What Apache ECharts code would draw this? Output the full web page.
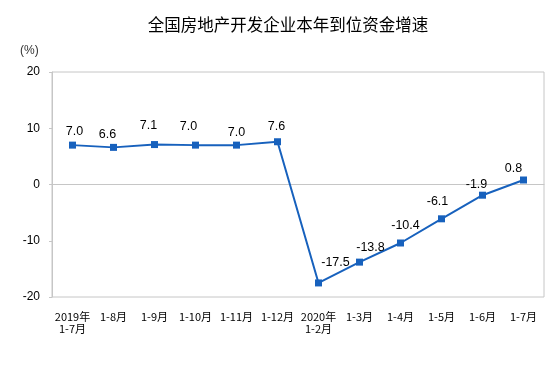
<!DOCTYPE html>
<html><head><meta charset="utf-8">
<script src="https://cdn.jsdelivr.net/npm/echarts@6/dist/echarts.min.js"></script>
<style>html,body{margin:0;padding:0;background:#fff}#c{width:554px;height:369px}</style>
</head><body><div id="c"></div>
<script>
const categories = ['2019年\n1-7月','1-8月','1-9月','1-10月','1-11月','1-12月','2020年\n1-2月','1-3月','1-4月','1-5月','1-6月','1-7月'];
const growth = [7.0, 6.6, 7.1, 7.0, 7.0, 7.6, -17.5, -13.8, -10.4, -6.1, -1.9, 0.8];
const yTicks = [-20, -10, 0, 10, 20];

// label style offsets (presentation only)
const labelOffsets = [[2,1],[-6,2],[-6,-4],[-7,-4],[0,2],[-1,0],[17,-5],[11,0],[5,-2],[-4,-2],[-6,4],[-10,4]];

const chart = echarts.init(document.getElementById('c'), null, {renderer:'canvas'});
const blue = '#1761BD';
chart.setOption({
  animation:false,
  graphic:[
    {type:'text', x:288, y:25, style:{text:'全国房地产开发企业本年到位资金增速', font:'16.5px "Noto Sans CJK SC"', fill:'#000', align:'center', verticalAlign:'middle'}},
    {type:'text', x:20, y:51, style:{text:'(%)', font:'12px "Liberation Sans"', fill:'#333', verticalAlign:'middle'}}
  ],
  grid:{left:52, right:10, top:72, bottom:72, show:true, borderColor:'#c6c6c6', borderWidth:1},
  xAxis:{type:'category', data:categories, boundaryGap:true,
    axisLine:{lineStyle:{color:'#c6c6c6'}},
    axisTick:{inside:true, length:4, lineStyle:{color:'#c6c6c6'}},
    axisLabel:{color:'#000', fontSize:11, fontFamily:'Noto Sans CJK SC', margin:14, lineHeight:12, interval:0}},
  yAxis:{type:'value', min:yTicks[0], max:yTicks[yTicks.length-1], interval:10,
    axisLine:{show:true, lineStyle:{color:'#c6c6c6'}},
    axisTick:{show:true, length:3, lineStyle:{color:'#c6c6c6'}},
    splitLine:{show:false},
    axisLabel:{color:'#000', fontSize:12, fontFamily:'Liberation Sans', margin:12}},
  series:[{type:'line', data:growth.map((v,i)=>({value:v, label:{offset:labelOffsets[i]}})),
    symbol:'rect', symbolSize:7, lineStyle:{color:blue, width:2}, itemStyle:{color:blue},
    label:{show:true, position:'top', distance:5, color:'#000', fontSize:12.5, fontFamily:'Liberation Sans',
      formatter:p=>p.value.toFixed(1)}}]
});
</script></body></html>
